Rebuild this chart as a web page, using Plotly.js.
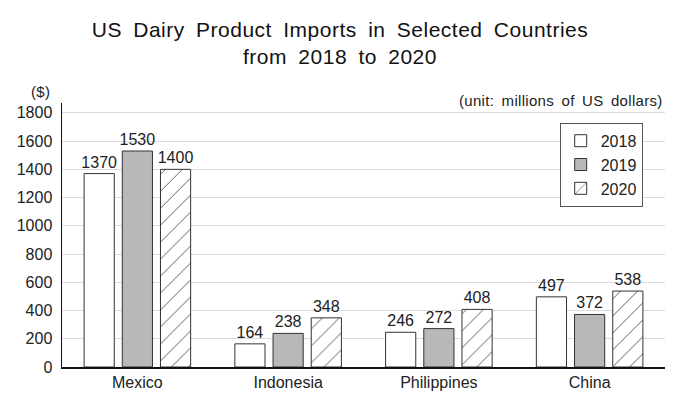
<!DOCTYPE html>
<html><head><meta charset="utf-8">
<script src="https://cdn.plot.ly/plotly-3.0.1.min.js"></script>
<style>body{margin:0;background:#fff}#chart{width:680px;height:397px}
.gtitle{letter-spacing:0.5px;word-spacing:5px}
.annotation-text{letter-spacing:0.3px;word-spacing:3px}
</style>
</head><body><div id="chart"></div>
<script>
const categories = ["Mexico", "Indonesia", "Philippines", "China"];
const years = ["2018", "2019", "2020"];
const values2018 = [1370, 164, 246, 497];
const values2019 = [1530, 238, 272, 372];
const values2020 = [1400, 348, 408, 538];
const tickVals = [0, 200, 400, 600, 800, 1000, 1200, 1400, 1600, 1800];

const font = "Liberation Sans, Arial, sans-serif";
const txtFont = {family: font, size: 16, color: "#222"};

function mk(name, vals, marker) {
  return {type: "bar", name: name, x: categories, y: vals,
    text: vals.map(String), textposition: "outside", cliponaxis: false,
    constraintext: "none", textfont: txtFont, marker: marker, hoverinfo: "skip"};
}
const data = [
  mk(years[0], values2018, {color: "#ffffff", line: {color: "#333", width: 1}}),
  mk(years[1], values2019, {color: "#b8b8b8", line: {color: "#333", width: 1}}),
  mk(years[2], values2020, {color: "#ffffff", line: {color: "#333", width: 1},
     pattern: {shape: "/", fgcolor: "#222", bgcolor: "#ffffff", size: 12, solidity: 0.06}})
];
const layout = {
  width: 680, height: 397,
  margin: {l: 62, r: 15, t: 103, b: 30},
  paper_bgcolor: "#fff", plot_bgcolor: "#fff",
  title: {text: "US Dairy Product Imports in Selected Countries<br>from 2018 to 2020",
    font: {family: font, size: 21, color: "#111"}, x: 0.5, xanchor: "center",
    yref: "container", y: 0.908, yanchor: "middle"},
  barmode: "group", bargap: 0.24, bargroupgap: 0.21,
  xaxis: {showline: true, linecolor: "#111", linewidth: 1.5, ticks: "", tickfont: txtFont,
    showgrid: false, zeroline: false},
  yaxis: {range: [0, 1870], tickvals: tickVals, showgrid: true, gridcolor: "#dcdcdc",
    showline: true, linecolor: "#111", linewidth: 1.5, ticks: "", tickfont: txtFont,
    zeroline: false, ticklabelstandoff: 5},
  legend: {x: 0.963, xanchor: "right", y: 0.925, yanchor: "top", bgcolor: "#fff",
    bordercolor: "#555", borderwidth: 1, font: txtFont, itemwidth: 30, tracegroupgap: 0},
  showlegend: true,
  annotations: [
    {text: "($)", xref: "paper", yref: "paper", x: -0.017, y: 1.0, yshift: 12, xanchor: "right",
     yanchor: "middle", showarrow: false, font: {family: font, size: 15, color: "#222"}},
    {text: "(unit: millions of US dollars)", xref: "paper", yref: "paper", x: 1, y: 1.0, yshift: 3,
     xanchor: "right", yanchor: "middle", showarrow: false, font: {family: font, size: 15, color: "#222"}}
  ]
};
Plotly.newPlot("chart", data, layout, {displayModeBar: false, staticPlot: true});
</script></body></html>
